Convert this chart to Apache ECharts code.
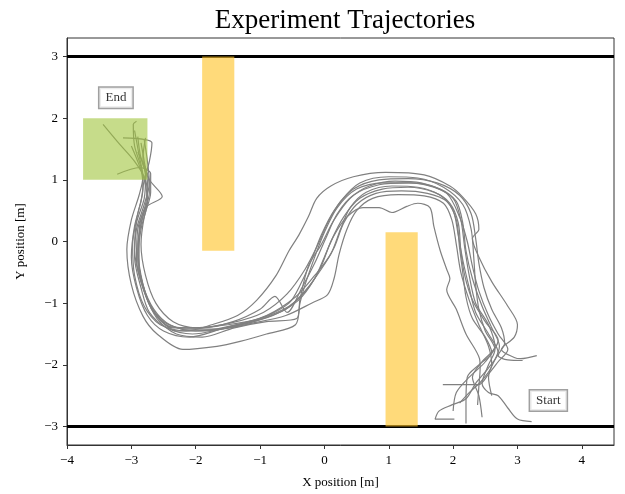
<!DOCTYPE html>
<html>
<head>
<meta charset="utf-8">
<script src="https://cdn.jsdelivr.net/npm/echarts@6/dist/echarts.min.js"></script>
<style>
  html, body { margin: 0; padding: 0; background: #fff; }
  #main { width: 625px; height: 494px; }
</style>
</head>
<body>
<div id="main"></div>
<script>
// trajectories, from start (bottom right) to end (top left), [x, y] in metres
const run01 = [[3.30,-1.85],[3.05,-1.90],[2.95,-1.88],[2.75,-1.75],[2.95,-1.55],[3.00,-1.35],[2.85,-1.05],[2.60,-0.65],[2.40,-0.25],[2.30,0.05],[2.40,0.20],[2.35,0.45],[2.15,0.72],[1.95,0.90],[1.55,1.08],[0.95,1.12],[0.45,1.05],[0.10,0.90],[-0.12,0.70],[-0.25,0.40],[-0.40,0.10],[-0.55,-0.15],[-0.75,-0.55],[-1.05,-0.95],[-1.35,-1.20],[-1.75,-1.35],[-2.15,-1.45],[-2.55,-1.35],[-2.80,-1.05],[-2.95,-0.55],[-2.98,-0.05],[-2.90,0.45],[-2.82,0.85],[-2.85,1.20],[-2.95,1.55],[-2.97,1.90],[-2.92,1.95]];
const run02 = [[2.02,-2.88],[1.72,-2.88],[1.78,-2.75],[1.98,-2.65],[2.20,-2.55],[2.35,-2.30],[2.55,-2.05],[2.70,-1.80],[2.55,-1.50],[2.35,-1.15],[2.25,-0.75],[2.15,-0.30],[2.08,0.10],[2.00,0.50],[1.80,0.75],[1.45,0.88],[1.05,0.90],[0.65,0.80],[0.40,0.55],[0.25,0.20],[0.10,-0.20],[-0.15,-0.55],[-0.45,-0.90],[-0.90,-1.20],[-1.50,-1.38],[-2.00,-1.45],[-2.40,-1.35],[-2.65,-1.10],[-2.82,-0.70],[-2.90,-0.20],[-2.85,0.30],[-2.75,0.70],[-2.78,1.00],[-2.95,1.30],[-3.20,1.60],[-3.44,1.90]];
const run03 = [[2.20,-2.95],[2.20,-2.60],[2.22,-2.20],[2.40,-2.00],[2.60,-1.80],[2.50,-1.55],[2.30,-1.25],[2.20,-0.90],[2.15,-0.50],[2.10,-0.10],[2.05,0.35],[1.90,0.65],[1.60,0.78],[1.20,0.82],[0.80,0.78],[0.50,0.60],[0.30,0.30],[0.15,-0.10],[-0.05,-0.45],[-0.30,-0.80],[-0.60,-1.10],[-1.10,-1.30],[-1.60,-1.42],[-2.05,-1.50],[-2.45,-1.40],[-2.72,-1.15],[-2.85,-0.75],[-2.95,-0.25],[-2.92,0.20],[-2.80,0.60],[-2.72,0.95],[-2.75,1.30],[-2.80,1.65]];
const run04 = [[1.84,-2.32],[2.40,-2.32],[2.55,-2.15],[2.70,-1.95],[2.85,-1.75],[2.70,-1.50],[2.55,-1.20],[2.40,-0.80],[2.30,-0.40],[2.22,0.00],[2.10,0.40],[1.90,0.78],[1.50,0.95],[1.10,0.98],[0.70,0.90],[0.40,0.70],[0.15,0.35],[-0.05,-0.05],[-0.25,-0.40],[-0.38,-0.94],[-0.43,-1.25],[-0.90,-1.30],[-1.40,-1.40],[-1.90,-1.55],[-2.30,-1.50],[-2.60,-1.25],[-2.78,-0.85],[-2.88,-0.35],[-2.88,0.15],[-2.78,0.55],[-2.52,0.73],[-2.72,1.00],[-2.85,1.35],[-2.90,1.70]];
const run05 = [[3.22,-2.92],[3.00,-2.88],[2.85,-2.70],[2.70,-2.50],[2.55,-2.45],[2.45,-2.30],[2.55,-2.00],[2.65,-1.75],[2.50,-1.45],[2.40,-1.10],[2.35,-0.70],[2.32,-0.25],[2.28,0.20],[2.15,0.60],[1.85,0.88],[1.45,1.03],[1.00,1.05],[0.55,0.95],[0.25,0.65],[0.05,0.30],[-0.10,-0.05],[-0.30,-0.45],[-0.58,-0.85],[-0.95,-1.15],[-1.45,-1.32],[-2.00,-1.40],[-2.35,-1.30],[-2.62,-1.00],[-2.78,-0.55],[-2.85,-0.05],[-2.80,0.40],[-2.70,0.80],[-2.70,1.10],[-2.87,1.20],[-3.22,1.09]];
const run06 = [[2.38,-2.65],[2.40,-2.35],[2.42,-2.05],[2.41,-1.90],[2.20,-1.50],[2.05,-1.10],[1.90,-0.78],[1.95,-0.60],[1.90,-0.45],[1.80,-0.15],[1.70,0.25],[1.64,0.55],[1.45,0.62],[1.28,0.57],[1.05,0.47],[0.85,0.55],[0.60,0.55],[0.35,0.40],[0.15,0.10],[0.00,-0.25],[-0.15,-0.60],[-0.40,-0.95],[-0.80,-1.20],[-1.30,-1.35],[-1.85,-1.45],[-2.30,-1.45],[-2.60,-1.20],[-2.80,-0.80],[-2.90,-0.30],[-2.85,0.20],[-2.75,0.65],[-2.80,1.00],[-2.92,1.35],[-3.00,1.55]];
const run07 = [[2.60,-2.50],[2.55,-2.20],[2.72,-1.70],[2.60,-1.40],[2.45,-1.05],[2.30,-0.60],[2.20,-0.15],[2.15,0.30],[2.05,0.65],[1.80,0.85],[1.35,0.95],[0.90,0.95],[0.50,0.85],[0.20,0.55],[0.00,0.15],[-0.15,-0.25],[-0.30,-0.70],[-0.38,-1.00],[-0.45,-1.35],[-0.90,-1.50],[-1.31,-1.62],[-1.67,-1.70],[-2.20,-1.75],[-2.60,-1.50],[-2.82,-1.21],[-3.00,-0.70],[-3.07,-0.13],[-3.00,0.35],[-2.88,0.75],[-2.82,1.05],[-2.88,1.40],[-2.95,1.80]];
const run08 = [[3.08,-1.93],[2.85,-1.92],[2.70,-1.85],[2.80,-1.65],[2.75,-1.40],[2.60,-1.10],[2.48,-0.75],[2.40,-0.35],[2.35,0.05],[2.28,0.45],[2.10,0.75],[1.75,0.95],[1.30,1.02],[0.85,1.00],[0.45,0.85],[0.15,0.50],[-0.05,0.10],[-0.20,-0.30],[-0.35,-0.65],[-0.55,-1.00],[-1.00,-1.25],[-1.55,-1.40],[-2.10,-1.55],[-2.50,-1.45],[-2.75,-1.20],[-2.92,-0.75],[-3.00,-0.25],[-2.95,0.25],[-2.85,0.65],[-2.80,1.00],[-2.72,1.30],[-2.68,1.60],[-3.13,1.68]];
const run09 = [[2.45,-2.85],[2.40,-2.50],[2.30,-2.20],[2.45,-1.95],[2.65,-1.70],[2.55,-1.35],[2.35,-1.00],[2.25,-0.55],[2.18,-0.10],[2.12,0.35],[2.00,0.70],[1.70,0.88],[1.30,0.95],[0.85,0.92],[0.45,0.75],[0.20,0.45],[0.02,0.05],[-0.15,-0.35],[-0.35,-0.75],[-0.58,-1.15],[-0.77,-0.89],[-1.00,-1.10],[-1.42,-1.30],[-1.90,-1.40],[-2.35,-1.40],[-2.65,-1.15],[-2.82,-0.75],[-2.92,-0.30],[-2.90,0.20],[-2.78,0.60],[-2.75,0.95],[-2.80,1.30],[-2.85,1.60]];
const run10 = [[2.10,-2.62],[2.25,-2.45],[2.45,-2.25],[2.60,-2.00],[2.55,-1.70],[2.40,-1.35],[2.25,-0.95],[2.12,-0.50],[2.05,-0.05],[1.98,0.35],[1.85,0.62],[1.55,0.74],[1.15,0.76],[0.75,0.70],[0.50,0.50],[0.35,0.20],[0.23,-0.20],[0.15,-0.60],[0.05,-0.86],[-0.20,-1.00],[-0.60,-1.20],[-1.10,-1.32],[-1.65,-1.42],[-2.15,-1.42],[-2.50,-1.30],[-2.72,-1.00],[-2.85,-0.55],[-2.90,-0.05],[-2.82,0.40],[-2.72,0.80],[-2.75,1.10],[-2.90,1.45]];
const run11 = [[2.00,-2.75],[2.05,-2.45],[2.25,-2.20],[2.50,-1.95],[2.70,-1.60],[2.50,-1.30],[2.30,-0.95],[2.18,-0.55],[2.12,-0.15],[2.08,0.30],[1.95,0.62],[1.70,0.80],[1.30,0.88],[0.90,0.85],[0.55,0.70],[0.30,0.40],[0.10,0.00],[-0.05,-0.40],[-0.25,-0.75],[-0.55,-1.05],[-1.00,-1.25],[-1.50,-1.35],[-2.00,-1.40],[-2.40,-1.38],[-2.68,-1.10],[-2.85,-0.65],[-2.95,-0.15],[-2.92,0.30],[-2.80,0.70],[-2.78,1.05],[-2.82,1.35],[-2.78,1.68]];
const runs = [run01, run02, run03, run04, run05, run06, run07, run08, run09, run10, run11];

// walls (y) and rectangles [x0, x1, y0, y1]
const wallY = [3, -3];
const wallX = [-4, 4.5];
const obstacles = [[-1.9, -1.4, -0.15, 3], [0.95, 1.45, -3, 0.15]];
const goal = [[-3.75, -2.75, 1, 2]];
const notes = [[-3.24, 2.33, 'End'], [3.48, -2.58, 'Start']];

const xTicks = [-4, -3, -2, -1, 0, 1, 2, 3, 4];
const yTicks = [-3, -2, -1, 0, 1, 2, 3];

const serif = 'Liberation Serif, DejaVu Serif, serif';
function minus(v) { return String(v).replace('-', '\u2212'); }

function rectItem(color) {
  return function (params, api) {
    const p0 = api.coord([api.value(0), api.value(3)]);
    const p1 = api.coord([api.value(1), api.value(2)]);
    return {
      type: 'rect',
      shape: { x: p0[0], y: p0[1], width: p1[0] - p0[0], height: p1[1] - p0[1] },
      style: { fill: color }
    };
  };
}

let myChart = echarts.init(document.getElementById('main'));
let series = [];
runs.forEach(function (r, i) {
  series.push({
    name: 'run' + (i + 1), type: 'line', data: r, symbol: 'none', smooth: 0.3,
    lineStyle: { color: '#808080', width: 1.2 }, z: 2
  });
});
wallY.forEach(function (y) {
  series.push({
    type: 'line', data: wallX.map(function (x) { return [x, y]; }), symbol: 'none',
    lineStyle: { color: '#000', width: 3 }, z: 3
  });
});
series.push({ type: 'custom', data: obstacles, renderItem: rectItem('rgba(255,196,40,0.62)'), z: 4 });
series.push({ type: 'custom', data: goal, renderItem: rectItem('rgba(160,196,60,0.6)'), z: 4 });
series.push({
  type: 'scatter', data: notes, symbolSize: 0, z: 5,
  label: {
    show: true, position: 'inside', formatter: function (p) { return p.value[2]; },
    fontFamily: serif, fontSize: 13, color: '#000',
    backgroundColor: '#fff', borderColor: '#888', borderWidth: 1.5, padding: [4, 6, 3, 6]
  }
});

option = {
  animation: false,
  title: {
    text: 'Experiment Trajectories', left: 340, textAlign: 'center', top: 2,
    textStyle: { fontFamily: serif, fontSize: 27, fontWeight: 'normal', color: '#000' }
  },
  grid: { left: 67, right: 11, top: 38, bottom: 48, show: true, borderColor: '#333', borderWidth: 1, backgroundColor: 'transparent' },
  xAxis: {
    type: 'value', min: -4, max: 4.5,
    name: 'X position [m]', nameLocation: 'middle', nameGap: 31,
    nameTextStyle: { fontFamily: serif, fontSize: 13, color: '#000' },
    axisLine: { onZero: false, lineStyle: { color: '#333' } },
    axisTick: { show: true, length: 4, lineStyle: { color: '#333' }, customValues: xTicks },
    axisLabel: { fontFamily: serif, fontSize: 13, color: '#000', margin: 9, customValues: xTicks, formatter: minus },
    splitLine: { show: false }
  },
  yAxis: {
    type: 'value', min: -3.3, max: 3.3,
    name: 'Y position [m]', nameLocation: 'middle', nameGap: 40,
    nameTextStyle: { fontFamily: serif, fontSize: 13, color: '#000' },
    axisLine: { show: true, onZero: false, lineStyle: { color: '#333' } },
    axisTick: { show: true, length: 4, lineStyle: { color: '#333' }, customValues: yTicks },
    axisLabel: { fontFamily: serif, fontSize: 13, color: '#000', margin: 9, customValues: yTicks, formatter: minus },
    splitLine: { show: false }
  },
  series: series
};
myChart.setOption(option);
window.addEventListener('resize', function () { myChart.resize(); });
</script>
</body>
</html>
